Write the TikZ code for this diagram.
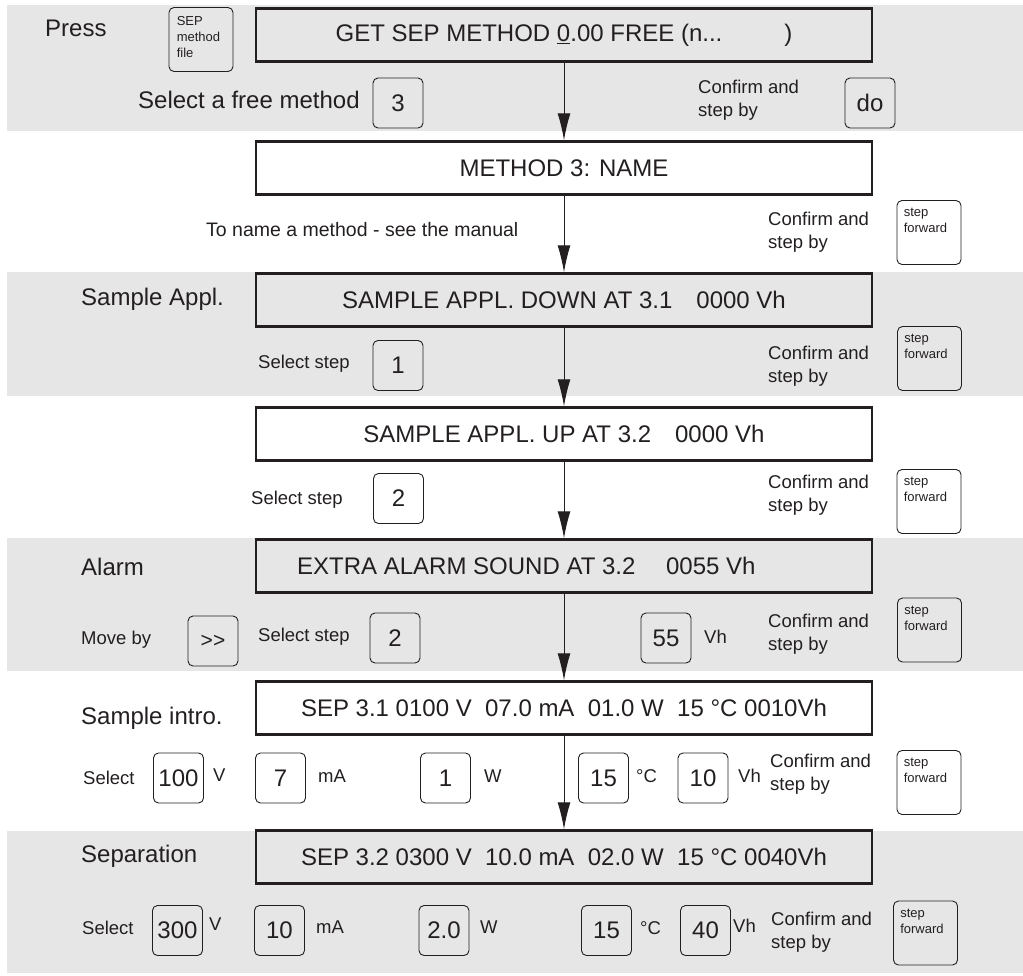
\documentclass[tikz,border=0pt]{standalone}
\usepackage{fontspec}
\setmainfont{Liberation Sans}
\usetikzlibrary{arrows.meta}
\definecolor{banda}{HTML}{E6E6E6}
\definecolor{tinta}{HTML}{231F20}

\begin{document}
\begin{tikzpicture}[x=1pt, y=-1pt, color=tinta,
    fondo/.style={fill=banda, draw=none},
    pantalla/.style={draw, line width=2.5pt, minimum width=616pt, minimum height=53pt,
      inner sep=0pt, font=\fontsize{24}{28}\selectfont},
    tecla/.style={draw, line width=0.9pt, rounded corners=5pt, minimum width=50pt,
      minimum height=50pt, inner sep=0pt, font=\fontsize{24}{28}\selectfont},
    blanda/.style={tecla, minimum width=64pt, minimum height=64pt},
    blandatxt/.style={anchor=north west, align=left, inner sep=0pt, font=\fontsize{13}{16}\selectfont},
    rotulo/.style={anchor=west, inner sep=0pt, font=\fontsize{24}{28}\selectfont},
    nota/.style={anchor=west, inner sep=0pt, align=left, font=\fontsize{18.5}{23}\selectfont},
    flujo/.style={line width=1pt, -{Latex[length=27pt,width=13pt]}}]
  \useasboundingbox (0,0) rectangle (1023,975);
  % grey bands
  \fill[fondo] (7,5) rectangle (1023,131);
  \fill[fondo] (7,272) rectangle (1023,396);
  \fill[fondo] (7,538) rectangle (1023,671);
  \fill[fondo] (7,831) rectangle (1023,973);
  % displays
  \node[pantalla] (d1) at (564,35)  {GET SEP METHOD \underline{0}.00 FREE (n...\hspace*{62pt})};
  \node[pantalla] (d2) at (564,168) {METHOD 3: NAME};
  \node[pantalla] (d3) at (564,300) {SAMPLE APPL. DOWN AT 3.1\quad 0000 Vh};
  \node[pantalla] (d4) at (564,434) {SAMPLE APPL. UP AT 3.2\quad 0000 Vh};
  \node[pantalla] (d5) at (564,566) {};
  \node[rotulo]   (d5t) at (297,566) {EXTRA ALARM SOUND AT 3.2\quad\ 0055 Vh};
  \node[pantalla] (d6) at (564,708) {SEP 3.1 0100 V~~07.0 mA~~01.0 W~~15 °C 0010Vh};
  \node[pantalla] (d7) at (564,857) {SEP 3.2 0300 V~~10.0 mA~~02.0 W~~15 °C 0040Vh};
  \foreach \a/\b in {d1/d2, d2/d3, d3/d4, d4/d5, d5/d6, d6/d7}
    \draw[flujo] (\a) -- (\b);
  % row labels
  \node[rotulo] (press) at (45,28)  {Press};
  \node[rotulo] (appl)  at (81,299) {Sample Appl.};
  \node[rotulo] (alarm) at (81,567) {Alarm};
  \node[rotulo] (intro) at (81,718) {Sample intro.};
  \node[rotulo] (sepa)  at (81,856) {Separation};
  % row 1
  \node[blanda] (sk0) at (201,39.5) {};
  \node[blandatxt] (sk0t) at ([shift={(8,9)}]sk0.north west) {SEP\\method\\file};
  \node[rotulo] (free) at (138,100) {Select a free method};
  \node[tecla] (k3) at (398,103) {3};
  \node[nota] (c1) at (698,100.5) {Confirm and\\step by};
  \node[tecla] (kdo) at (870,103) {do};
  % row 2
  \node[nota, font=\fontsize{19.5}{23}\selectfont] (man) at (206,230) {To name a method - see the manual};
  \node[nota] (c2) at (768,232) {Confirm and\\step by};
  \node[blanda] (sk2) at (929,232.5) {};
  \node[blandatxt] (sk2t) at ([shift={(7,8)}]sk2.north west) {step\\forward};
  % row 3
  \node[nota] (s3) at (258,364) {Select step};
  \node[tecla] (k31) at (398,365.5) {1};
  \node[nota] (c3) at (768,366.5) {Confirm and\\step by};
  \node[blanda] (sk3) at (929.5,358.5) {};
  \node[blandatxt] (sk3t) at ([shift={(7,8)}]sk3.north west) {step\\forward};
  % row 4
  \node[nota] (s4) at (251,500) {Select step};
  \node[tecla] (k41) at (398.5,498.5) {2};
  \node[nota] (c4) at (768,495) {Confirm and\\step by};
  \node[blanda] (sk4) at (929,501.5) {};
  \node[blandatxt] (sk4t) at ([shift={(7,8)}]sk4.north west) {step\\forward};
  % row 5
  \node[nota] (mv) at (81,640) {Move by};
  \node[tecla, font=\fontsize{21}{24}\selectfont] (kmv) at (213,641) {>\kern0pt>};
  \node[nota] (s5) at (258,637) {Select step};
  \node[tecla] (k51) at (395,638) {2};
  \node[tecla] (k52) at (666,638) {55};
  \node[nota] (u52) at (704,637) {Vh};
  \node[nota] (c5) at (768,634) {Confirm and\\step by};
  \node[blanda] (sk5) at (929.5,630) {};
  \node[blandatxt] (sk5t) at ([shift={(7,8)}]sk5.north west) {step\\forward};
  % row 6
  \node[nota] (s6) at (83,778) {Select};
  \node[tecla] (k61) at (178.5,778) {100};
  \node[nota]  (u61) at (213,775) {V};
  \node[tecla] (k62) at (280.5,778) {7};
  \node[nota]  (u62) at (318,776) {mA};
  \node[tecla] (k63) at (445.5,778) {1};
  \node[nota]  (u63) at (484,776) {W};
  \node[tecla] (k64) at (603.5,778) {15};
  \node[nota]  (u64) at (636,776) {°C};
  \node[tecla] (k65) at (703,778) {10};
  \node[nota]  (u65) at (738,776) {Vh};
  \node[nota] (c6) at (770,774.5) {Confirm and\\step by};
  \node[blanda] (sk6) at (929,782.5) {};
  \node[blandatxt] (sk6t) at ([shift={(7,8)}]sk6.north west) {step\\forward};
  % row 7
  \node[nota] (s7) at (82,928) {Select};
  \node[tecla] (k71) at (177.5,930.5) {300};
  \node[nota]  (u71) at (209,924) {V};
  \node[tecla] (k72) at (279.5,930.5) {10};
  \node[nota]  (u72) at (316,927) {mA};
  \node[tecla] (k73) at (444,930.5) {2.0};
  \node[nota]  (u73) at (480,927) {W};
  \node[tecla] (k74) at (606.5,930.5) {15};
  \node[nota]  (u74) at (640,928) {°C};
  \node[tecla] (k75) at (705.5,930.5) {40};
  \node[nota]  (u75) at (733,926) {Vh};
  \node[nota] (c7) at (771,932) {Confirm and\\step by};
  \node[blanda] (sk7) at (925.5,933) {};
  \node[blandatxt] (sk7t) at ([shift={(7,8)}]sk7.north west) {step\\forward};
\end{tikzpicture}
\end{document}
